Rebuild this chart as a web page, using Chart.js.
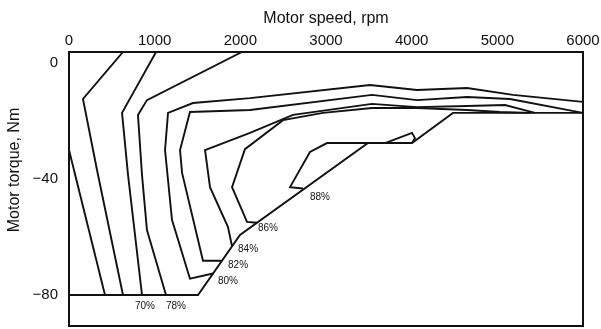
<!DOCTYPE html>
<html>
<head>
<meta charset="utf-8">
<script src="https://cdn.jsdelivr.net/npm/chart.js@4.4.1/dist/chart.umd.min.js"></script>
<style>
  html, body { margin: 0; padding: 0; background: #fff; }
</style>
</head>
<body>
<canvas id="map" width="601" height="329"></canvas>
<script>
// Ejes
const speedTicks = [0, 1000, 2000, 3000, 4000, 5000, 6000];
const torqueTicks = [0, -40, -80];

// Curvas de isoeficiencia [rpm, Nm]
const line1 = [[0, -30.0], [420, -80]];
const line2 = [[630, 3.8], [163, -12.4], [327, -36.9], [630, -80]];
const line3 = [[1016, 3.8], [619, -17.2], [689, -38.6], [852, -80]];
const line4 = [[2019, 3.8], [910, -12.8], [805, -17.9], [852, -38.6], [910, -57.6], [1132, -80]];
const eff80 = [[6000, -13.4], [5183, -11.0], [4646, -8.6], [4062, -9.3], [3514, -7.6], [2113, -12.1],
               [1447, -13.8], [1156, -17.2], [1121, -30.0], [1202, -54.1], [1412, -74.4], [1681, -72.6]];
const eff82 = [[6000, -17.2], [5148, -12.4], [4646, -11.7], [4062, -12.8], [3537, -11.0], [2113, -16.2],
               [1412, -16.9], [1296, -30.0], [1320, -37.9], [1564, -68.2], [1786, -68.2]];
const eff84 = [[5440, -17.2], [5089, -14.5], [4646, -14.8], [4062, -15.2], [3537, -14.1], [2615, -17.9],
               [2113, -24.1], [1588, -30.0], [1646, -42.8], [1856, -56.6], [1903, -63.2]];
const eff86 = [[5381, -17.2], [5031, -16.9], [4646, -16.2], [4062, -15.5], [3537, -15.5], [2965, -17.2],
               [2498, -19.7], [2054, -29.7], [1903, -42.8], [2078, -54.8], [2195, -55.1]];
const eff88 = [[2731, -43.3], [2580, -42.8], [2813, -30.7], [3012, -27.6], [4004, -27.6]];
const eff88b = [[3689, -27.6], [4004, -24.1], [4039, -25.9], [4004, -27.6]];
const maxTorque = [[0, -80], [1506, -80], [1996, -59.3], [3490, -27.6], [4004, -27.6], [4482, -17.2], [6000, -17.2]];

// Etiquetas de eficiencia
const effLabels = ['70%', '78%', '80%', '82%', '84%', '86%', '88%'];
const labelSpeed = [887, 1249, 1856, 1973, 2090, 2323, 2930];
const labelTorque = [-83.8, -83.8, -75.2, -69.7, -64.1, -56.9, -46.2];

const allLines = [line1, line2, line3, line4, eff80, eff82, eff84, eff86, eff88, eff88b, maxTorque];

Chart.defaults.font.family = '"Liberation Sans", Arial, sans-serif';
Chart.defaults.color = '#111';

// Marco, textos de eficiencia y título vertical
const extras = {
    id: 'extras',
    afterDatasetsDraw(chart) {
        const { ctx, chartArea: a, scales } = chart;
        ctx.save();
        ctx.strokeStyle = '#111';
        ctx.lineWidth = 2;
        ctx.strokeRect(a.left, a.top, a.right - a.left, a.bottom - a.top);

        ctx.fillStyle = '#111';
        ctx.font = '10px "Liberation Sans", Arial, sans-serif';
        ctx.textAlign = 'center';
        ctx.textBaseline = 'middle';
        effLabels.forEach((t, i) => {
            ctx.fillText(t, scales.x.getPixelForValue(labelSpeed[i]), scales.y.getPixelForValue(labelTorque[i]));
        });

        ctx.font = '16px "Liberation Sans", Arial, sans-serif';
        ctx.translate(15, 170);
        ctx.rotate(-Math.PI / 2);
        ctx.fillText('Motor torque, Nm', 0, 0);
        ctx.restore();
    }
};

new Chart(document.getElementById('map'), {
    type: 'scatter',
    data: {
        datasets: allLines.map(pts => ({
            data: pts.map(p => ({ x: p[0], y: p[1] })),
            showLine: true,
            borderColor: '#111',
            borderWidth: 1.9,
            pointRadius: 0,
            fill: false,
            tension: 0
        }))
    },
    options: {
        responsive: false,
        animation: false,
        layout: { padding: { top: 0, left: 0, right: 18, bottom: 3 } },
        plugins: { legend: { display: false }, tooltip: { enabled: false } },
        scales: {
            x: {
                type: 'linear',
                position: 'top',
                min: 0,
                max: 6000,
                afterBuildTicks: s => { s.ticks = speedTicks.map(v => ({ value: v })); },
                ticks: { font: { size: 15 }, padding: 2, maxRotation: 0, color: '#111', callback: v => String(v) },
                grid: { display: false, drawTicks: false },
                border: { display: false },
                title: { display: true, text: 'Motor speed, rpm', font: { size: 16 }, padding: { top: 9, bottom: 0 }, color: '#111' },
                afterFit: s => { s.height = 52; s.paddingLeft = 0; s.paddingRight = 0; }
            },
            y: {
                min: -90.7,
                max: 3.8,
                afterBuildTicks: s => { s.ticks = torqueTicks.map(v => ({ value: v })); },
                ticks: {
                    font: { size: 15 },
                    padding: 11,
                    color: '#111',
                    callback: v => v < 0 ? '\u2212' + Math.abs(v) : String(v)
                },
                grid: { display: false, drawTicks: false },
                border: { display: false },
                afterFit: s => { s.width = 69; s.paddingTop = 0; s.paddingBottom = 0; }
            }
        }
    },
    plugins: [extras]
});
</script>
</body>
</html>
